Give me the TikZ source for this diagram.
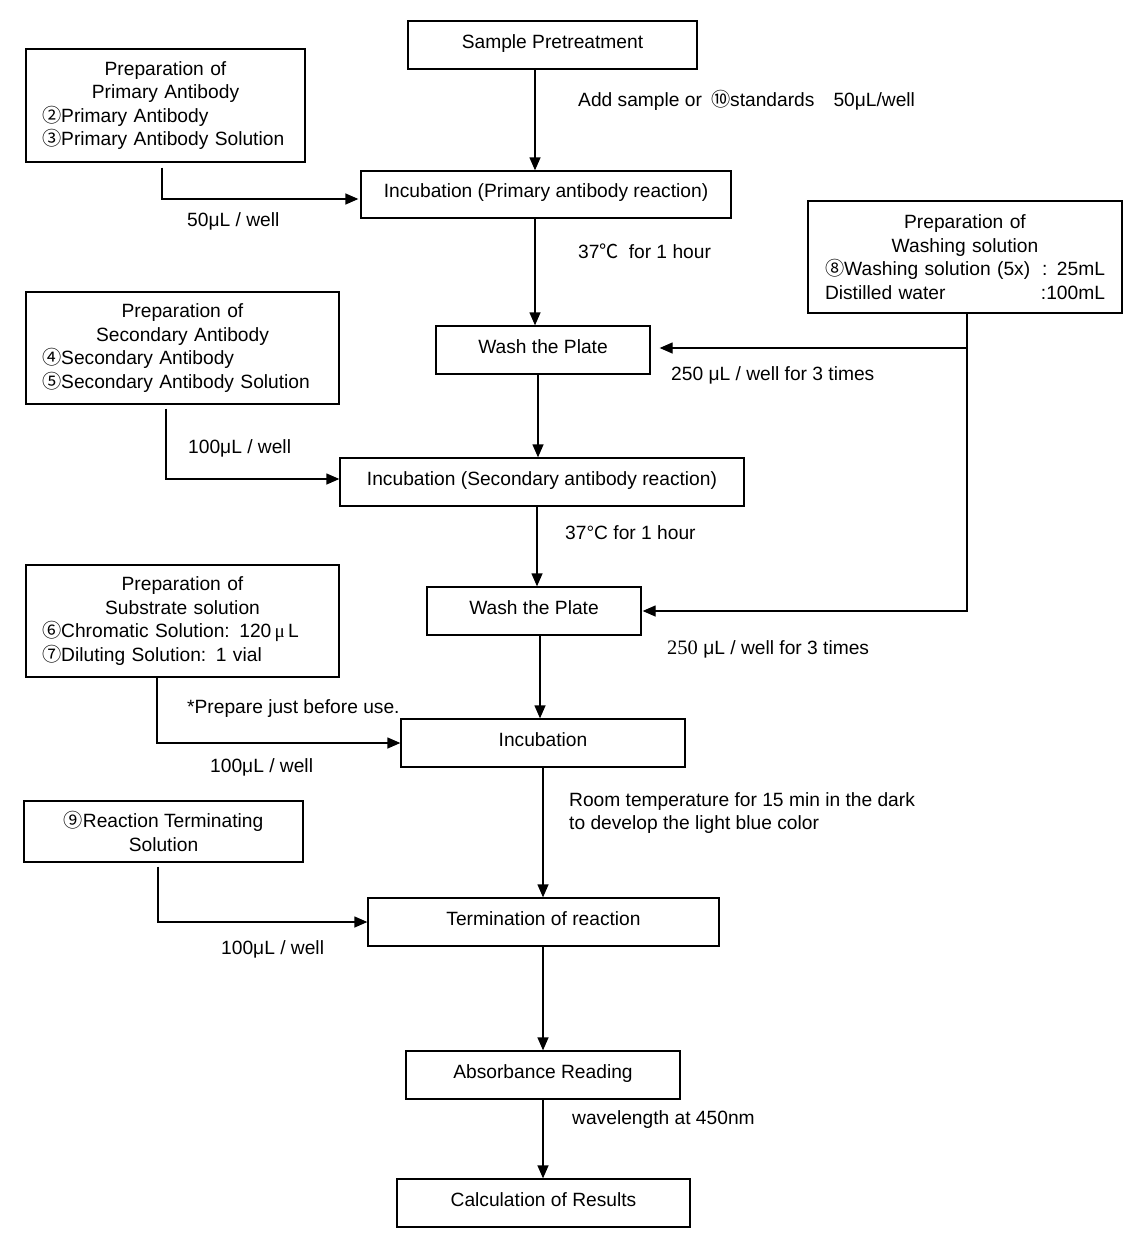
\documentclass[tikz,border=0pt]{standalone}
\usepackage{fontspec}
\setmainfont{Liberation Sans}
\newfontfamily\cjkf{Noto Sans CJK SC}
\newfontfamily\serf{Liberation Serif}
\usetikzlibrary{arrows.meta}
\newcommand\cn[1]{{\cjkf #1}}
\newcommand\cl[1]{\makebox[\linewidth][c]{#1}}
\begin{document}
\begin{tikzpicture}[x=1pt,y=-1pt,
  box/.style={draw, line width=1.3pt, inner sep=0pt, font=\fontsize{19.2}{23.5}\selectfont},
  sbox/.style={box, text height=14pt, text depth=8pt, minimum height=48},
  lab/.style={anchor=west, inner sep=0pt, font=\fontsize{19.2}{22.5}\selectfont, text height=14pt, text depth=2pt},
  arr/.style={-{Triangle[length=13pt,width=11pt]}, line width=1.3pt}]
\useasboundingbox (0,0) rectangle (1136,1234);
\fill[white] (0,0) rectangle (1136,1234);

% main boxes
\node[sbox, minimum width=289] (sample) at (552.5,45) {Sample Pretreatment};
\node[sbox, minimum width=370, minimum height=47] (inc1) at (546,194.5) {Incubation (Primary antibody reaction)};
\node[sbox, minimum width=214] (wash1) at (543,350) {Wash the Plate};
\node[sbox, minimum width=404] (inc2) at (542,482) {Incubation (Secondary antibody reaction)};
\node[sbox, minimum width=214] (wash2) at (534,611) {Wash the Plate};
\node[sbox, minimum width=284] (incub) at (543,743) {Incubation};
\node[sbox, minimum width=351] (termin) at (543.5,922) {Termination of reaction};
\node[sbox, minimum width=274] (absorb) at (543,1075) {Absorbance Reading};
\node[sbox, minimum width=293] (calc) at (543.5,1203) {Calculation of Results};

% preparation boxes
\node[box, minimum width=279, minimum height=113, text width=247, align=left] (prim) at (165.5,105.5)
  {\cl{Preparation of}\\\cl{Primary Antibody}\\\cn{②}Primary Antibody\\\cn{③}Primary Antibody Solution};
\node[box, minimum width=313, minimum height=112, text width=281, align=left] (second) at (182.5,348)
  {\cl{Preparation of}\\\cl{Secondary Antibody}\\\cn{④}Secondary Antibody\\\cn{⑤}Secondary Antibody Solution};
\node[box, minimum width=313, minimum height=112, text width=281, align=left] (subst) at (182.5,621)
  {\cl{Preparation of}\\\cl{Substrate solution}\\\cn{⑥}Chromatic Solution: 120\,{\serf μ}\,L\\\cn{⑦}Diluting Solution: 1 vial};
\node[box, minimum width=314, minimum height=112, text width=280, align=left] (washprep) at (965,257)
  {\cl{Preparation of}\\\cl{Washing solution}\\\cn{⑧}Washing solution (5x)\hfill: 25mL\\Distilled water\hfill:100mL};
\node[box, minimum width=279, minimum height=61, align=center] (stop) at (163.5,831.5)
  {\cn{⑨}Reaction Terminating\\Solution};

% labels
\node[lab] (l1) at (578,100) {Add sample or\hspace{9pt}\cn{⑩}standards\hspace{19pt}50μL/well};
\node[lab] (l2) at (187,220) {50μL / well};
\node[lab] (l3) at (578,252) {37\cn{℃}\hspace{10pt}for 1 hour};
\node[lab] (l4) at (671,374) {250 μL / well for 3 times};
\node[lab] (l5) at (188,447) {100μL / well};
\node[lab] (l6) at (565,533) {37°C for 1 hour};
\node[lab] (l7) at (667,648) {{\serf\fontsize{20.5}{22}\selectfont 250} μL / well for 3 times};
\node[lab] (l8) at (187,707) {*Prepare just before use.};
\node[lab] (l9) at (210,766) {100μL / well};
\node[lab, align=left, text height=, text depth=] (l10) at (569,813) {Room temperature for 15 min in the dark\\to develop the light blue color};
\node[lab] (l11) at (221,948) {100μL / well};
\node[lab] (l12) at (572,1118) {wavelength at 450nm};

% x positions
\coordinate (c535) at (535,0);
\coordinate (c538) at (538,0);
\coordinate (c537) at (537,0);
\coordinate (c540) at (540,0);
\coordinate (c543) at (543,0);
\coordinate (c162) at (162,0);
\coordinate (c166) at (166,0);
\coordinate (c157) at (157,0);
\coordinate (c158) at (158,0);
\coordinate (c967) at (967,0);

% vertical flow
\draw[arr] (sample.south -| c535) -- (inc1.north -| c535);
\draw[arr] (inc1.south -| c535) -- (wash1.north -| c535);
\draw[arr] (wash1.south -| c538) -- (inc2.north -| c538);
\draw[arr] (inc2.south -| c537) -- (wash2.north -| c537);
\draw[arr] (wash2.south -| c540) -- (incub.north -| c540);
\draw[arr] (incub.south -| c543) -- (termin.north -| c543);
\draw[arr] (termin.south -| c543) -- (absorb.north -| c543);
\draw[arr] (absorb.south -| c543) -- (calc.north -| c543);

% side inputs
\draw[arr, shorten <=5pt, shorten >=2pt] (prim.south -| c162) |- ([yshift=-4.5pt]inc1.west);
\draw[arr, shorten <=4pt] (second.south -| c166) |- ([yshift=3pt]inc2.west);
\draw[arr] (subst.south -| c157) |- (incub.west);
\draw[arr, shorten <=4pt] (stop.south -| c158) |- (termin.west);
\draw[arr, shorten >=9pt] (washprep.south -| c967) |- ([yshift=2pt]wash1.east);
\draw[arr, shorten >=1pt] (washprep.south -| c967) |- (wash2.east);
\end{tikzpicture}
\end{document}
